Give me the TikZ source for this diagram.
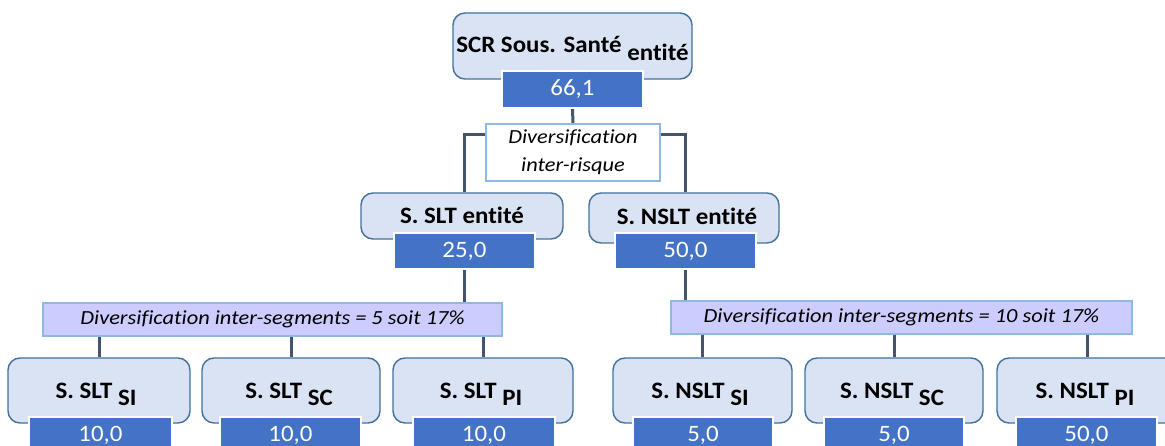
\documentclass[tikz,border=0pt]{standalone}
\usepackage{fontspec}
\setmainfont{Carlito}[FakeStretch=1.06, Ligatures=NoCommon]
\newfontfamily\divfont{Carlito}[FakeStretch=1.12, Ligatures=NoCommon]
\usetikzlibrary{backgrounds}
\definecolor{boxfill}{HTML}{DAE3F3}
\definecolor{boxdraw}{HTML}{41719C}
\definecolor{valfill}{HTML}{4472C4}
\definecolor{linec}{HTML}{44546A}
\definecolor{divdraw}{HTML}{8FB8E3}
\definecolor{segfill}{HTML}{CCCCFF}
\newcommand{\bx}[7]{\node[#2, minimum width={#5-#3}, minimum height={#6-#4}] (#1) at ({(#3+#5)/2},{(#4+#6)/2}) {#7};}
\newcommand{\lw}[1]{\raisebox{-6pt}{#1}}
\tikzset{
 ent/.style={draw=boxdraw, fill=boxfill, rounded corners=12pt, line width=1.4pt, inner sep=0pt},
 val/.style={draw=white, fill=valfill, line width=1.5pt, inner sep=0pt, text=white, font=\fontsize{23.5}{27}\selectfont},
 lab/.style={inner sep=0pt, anchor=base, font=\fontsize{23.5}{27}\selectfont\bfseries},
 divbox/.style={draw=divdraw, fill=white, line width=1.4pt, inner sep=0pt, align=center, font=\divfont\fontsize{20}{28}\selectfont\itshape},
 seg/.style={divbox, fill=segfill},
 conn/.style={draw=linec, line width=3pt},
}
\begin{document}
\begin{tikzpicture}[x=1pt,y=-1pt]
\useasboundingbox (0,0) rectangle (1165,446);
\clip (0,0) rectangle (1165,446);
% top level
\bx{top}{ent}{453}{13}{692}{79}{}
\node[lab] (toplab) at (572.5,53) {SCR Sous. Santé \raisebox{-8pt}{entité}};
\bx{v0}{val}{502}{71}{643}{108}{66,1}
\bx{d0}{divbox}{486}{124}{660}{181}{Diversification\\inter-risque}
% second level
\bx{slt}{ent}{361}{193}{563}{239}{}
\node[lab] (sltlab) at (462,224) {S. SLT entité};
\bx{v1}{val}{394}{233}{535}{269}{25,0}
\bx{nslt}{ent}{589}{193}{779}{243}{}
\node[lab] (nsltlab) at (687,225) {S. NSLT entité};
\bx{v2}{val}{615}{233}{756}{269}{50,0}
% segment diversification
\bx{segL}{seg}{43}{303}{502}{336}{Diversification inter-segments = 5 soit 17\%}
\bx{segR}{seg}{671}{301}{1132}{334}{Diversification inter-segments = 10 soit 17\%}
% third level
\bx{c1}{ent}{8}{358}{190}{423}{}
\node[lab] (c1lab) at (96,399) {S. SLT \lw{SI}};
\bx{w1}{val}{29}{417}{172}{453}{10,0}
\bx{c2}{ent}{202}{358}{380}{423}{}
\node[lab] (c2lab) at (289,399) {S. SLT \lw{SC}};
\bx{w2}{val}{220}{417}{361}{453}{10,0}
\bx{c3}{ent}{393}{358}{573}{423}{}
\node[lab] (c3lab) at (481,399) {S. SLT \lw{PI}};
\bx{w3}{val}{413}{417}{555}{453}{10,0}
\bx{c4}{ent}{613}{358}{792}{423}{}
\node[lab] (c4lab) at (700,399) {S. NSLT \lw{SI}};
\bx{w4}{val}{633}{417}{773}{453}{5,0}
\bx{c5}{ent}{805}{358}{983}{423}{}
\node[lab] (c5lab) at (892,399) {S. NSLT \lw{SC}};
\bx{w5}{val}{824}{417}{964}{453}{5,0}
\bx{c6}{ent}{997}{358}{1177}{423}{}
\node[lab] (c6lab) at (1085,399) {S. NSLT \lw{PI}};
\bx{w6}{val}{1016}{417}{1157}{453}{50,0}
% connectors
\begin{scope}[on background layer]
\draw[conn] (v0.south) -- (d0.north);
\draw[conn] ([yshift=-11pt]d0.north west) -| (v1.north |- slt.north);
\draw[conn] ([yshift=-11pt]d0.north east) -| (v2.north |- nslt.north);
\draw[conn] (v1.south) -- (v1.south |- segL.north);
\draw[conn] (v2.south) -- (v2.south |- segR.north);
\foreach \c in {c1,c2,c3} \draw[conn] (\c.north |- segL.south) -- (\c.north);
\foreach \c in {c4,c5,c6} \draw[conn] (\c.north |- segR.south) -- (\c.north);
\end{scope}
\end{tikzpicture}
\end{document}
